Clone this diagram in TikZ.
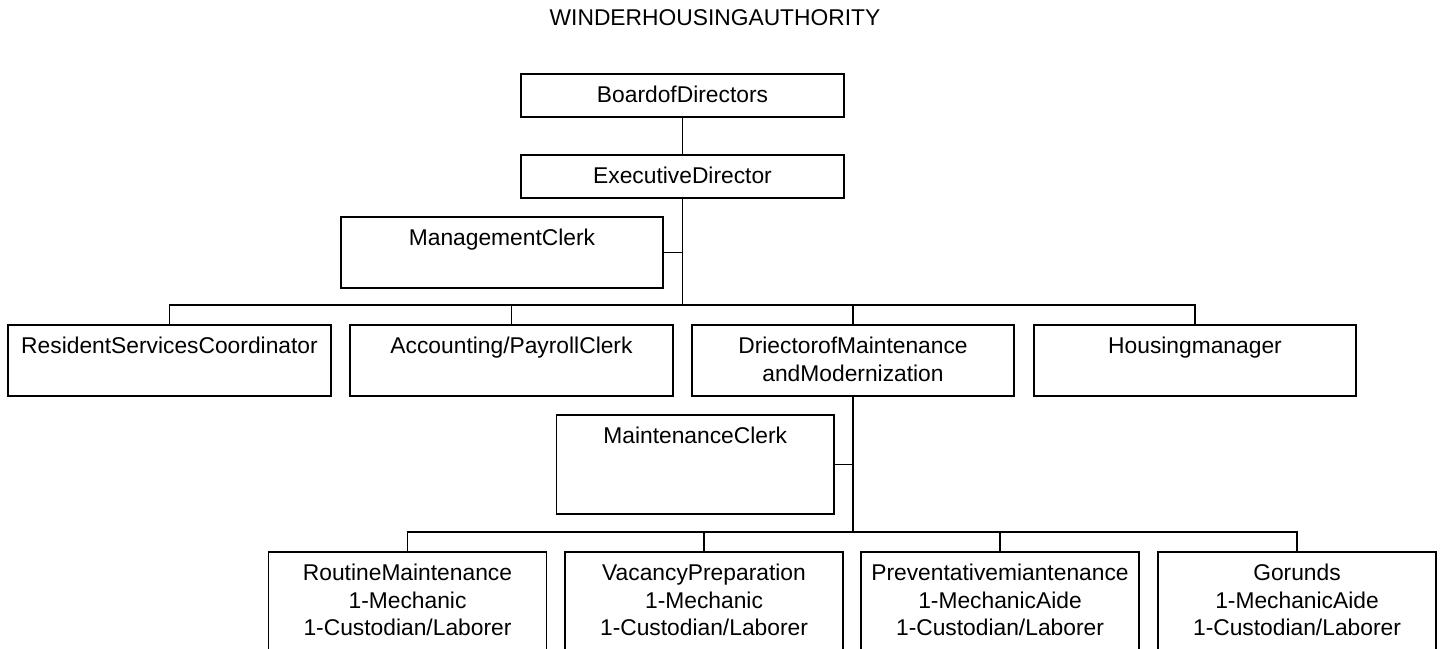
\documentclass[tikz,border=0pt]{standalone}
\usepackage{fontspec}
\setmainfont{Liberation Sans}

% text of a box: width, height (pt), lines set from the top
\newcommand{\boxtext}[3]{\parbox[c][#2pt][t]{#1pt}{\centering\rule{0pt}{14.4pt}#3}}

\begin{document}
\begin{tikzpicture}[x=0.5pt, y=-0.5pt,
  every node/.style={font=\fontsize{11.4}{13.75}\selectfont},
  orgbox/.style={draw, line width=0.75pt, inner sep=0pt, anchor=north},
  wire/.style={line width=0.75pt}]
  \clip (0,0) rectangle (1440,648);

  \node (title) at (715,18) {WINDERHOUSINGAUTHORITY};

  \node[orgbox] (board) at (682.5,73) {\boxtext{161.5}{21.5}{BoardofDirectors}};
  \node[orgbox] (exec) at (682.5,154) {\boxtext{161.5}{21.5}{ExecutiveDirector}};
  \node[orgbox] (mgmt) at (502,216) {\boxtext{161}{35.5}{ManagementClerk}};

  \node[orgbox] (resident) at (169.5,324) {\boxtext{161.5}{35.5}{ResidentServicesCoordinator}};
  \node[orgbox] (accounting) at (511.5,324) {\boxtext{161.5}{35.5}{Accounting/PayrollClerk}};
  \node[orgbox] (drector) at (853,324) {\boxtext{161}{35.5}{DriectorofMaintenance\\andModernization}};
  \node[orgbox] (housing) at (1195,324) {\boxtext{161}{35.5}{Housingmanager}};

  \node[orgbox] (maintclerk) at (695.25,414) {\boxtext{138.75}{49.5}{MaintenanceClerk}};

  \node[orgbox] (routine) at (407.5,551) {\boxtext{139}{54.5}{RoutineMaintenance\\1-Mechanic\\1-Custodian/Laborer}};
  \node[orgbox] (vacancy) at (704,551) {\boxtext{139}{54.5}{VacancyPreparation\\1-Mechanic\\1-Custodian/Laborer}};
  \node[orgbox] (prev) at (1000,551) {\boxtext{139}{54.5}{Preventativemiantenance\\1-MechanicAide\\1-Custodian/Laborer}};
  \node[orgbox] (grounds) at (1297,551) {\boxtext{139}{54.5}{Gorunds\\1-MechanicAide\\1-Custodian/Laborer}};

  % reporting lines
  \coordinate (hubA) at (682.5,305);
  \coordinate (hubB) at (853,532);
  \draw[wire] (board) -- (exec);
  \draw[wire] (exec.south) -- (hubA);
  \draw[wire] (mgmt.east) -- (mgmt.east -| hubA);
  \foreach \n in {resident,accounting,drector,housing}
    \draw[wire] (\n.north) |- (hubA);
  \draw[wire] (drector.south) -- (hubB);
  \draw[wire] (maintclerk.east) -- (maintclerk.east -| hubB);
  \foreach \n in {routine,vacancy,prev,grounds}
    \draw[wire] (\n.north) |- (hubB);
\end{tikzpicture}
\end{document}
